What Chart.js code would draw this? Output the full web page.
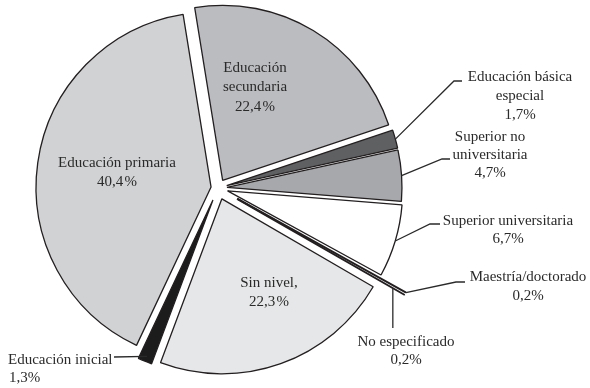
<!DOCTYPE html>
<html>
<head>
<meta charset="utf-8">
<script src="https://cdn.jsdelivr.net/npm/chart.js@4.4.1/dist/chart.umd.min.js"></script>
<style>
  html, body { margin: 0; padding: 0; background: #fff; }
  #wrap { position: relative; width: 590px; height: 388px; }
</style>
</head>
<body>
<div id="wrap"><canvas id="pie"></canvas></div>
<script>
// Data (percent of population by education level)
const categories = [
    'Educación secundaria', 'Educación básica especial', 'Superior no universitaria',
    'Superior universitaria', 'Maestría/doctorado', 'No especificado',
    'Sin nivel', 'Educación inicial', 'Educación primaria'
];
const shares = [22.4, 1.7, 4.7, 6.7, 0.2, 0.2, 22.3, 1.3, 40.4];

// Styles
const fills = ['#bbbcbf', '#5f6062', '#a7a8ab', '#ffffff', '#3a3a3a', '#3a3a3a', '#e6e7e8', '#1c1c1c', '#d1d2d4'];
const borders = [1.3, 1.3, 1.3, 1.3, 1.9, 1.9, 1.3, 1.3, 1.3];
const explode = [9, 9, 9, 10, 4, 4, 11.5, 13, 7];      // px pulled out along slice middle
const nativeOffset = [0, 0, 0, 0, 72, 72, 0, 0, 0];    // Chart.js offset (thin slices only)

// Label layout: lines of text, centre x, first-line y, line height, inside/outside
const labelLayout = [
    { lines: ['Educación', 'secundaria'], x: 255, y: 68, lh: 19.5 },
    { lines: ['Educación básica', 'especial'], x: 520, y: 77, lh: 19, leader: { k: 1, pts: [[454, 81], [462, 81]] } },
    { lines: ['Superior no', 'universitaria'], x: 490, y: 137, lh: 18, leader: { k: 1, pts: [[442, 159], [450, 159]] } },
    { lines: ['Superior universitaria'], x: 508, y: 221, lh: 18.5, leader: { k: 1, pts: [[430, 224], [440, 224]] } },
    { lines: ['Maestría/doctorado'], x: 528, y: 277, lh: 19, leader: { k: 1, pts: [[456, 282], [465, 282]] } },
    { lines: ['No especificado'], x: 406, y: 342, lh: 18.5, leader: { k: 0.93, vertical: 328 } },
    { lines: ['Sin nivel,'], x: 269, y: 283, lh: 19 },
    { lines: ['Educación inicial'], x: 8, y: 360, lh: 18.5, align: 'left', leader: { k: 0.97, pts: [[114, 357]] } },
    { lines: ['Educación primaria'], x: 117, y: 163, lh: 19.5 }
];

const FONT = '15px "Liberation Serif", "DejaVu Serif", serif';
const INK = '#2a2a2a';

function pct(v, inside) {
    return v.toFixed(1).replace('.', ',') + (inside ? '\u200a%' : '%');
}

// draw each slice pulled away from the centre
const explodePlugin = {
    id: 'explode',
    beforeDatasetDraw(chart, args) {
        const ctx = chart.ctx;
        args.meta.data.forEach((arc, i) => {
            const a = (arc.startAngle + arc.endAngle) / 2;
            ctx.save();
            ctx.translate(Math.cos(a) * explode[i], Math.sin(a) * explode[i]);
            arc.draw(ctx, chart.chartArea);
            ctx.restore();
        });
        return false;
    }
};

// text labels and leader lines
const labelPlugin = {
    id: 'labels',
    afterDatasetsDraw(chart) {
        const ctx = chart.ctx;
        const meta = chart.getDatasetMeta(0);
        ctx.save();
        ctx.font = FONT;
        ctx.fillStyle = INK;
        ctx.textBaseline = 'middle';
        labelLayout.forEach((lab, i) => {
            const arc = meta.data[i];
            const texts = lab.lines.concat([pct(shares[i], !lab.leader)]);
            ctx.textAlign = lab.align || 'center';
            texts.forEach((t, j) => {
                let x = lab.x;
                if (lab.align === 'left' && j === texts.length - 1) x += 1;
                ctx.fillText(t, x, lab.y + j * lab.lh);
            });
            if (!lab.leader) return;
            const mid = (arc.startAngle + arc.endAngle) / 2;
            const extra = nativeOffset[i] / 4;
            const r = (arc.outerRadius + extra) * lab.leader.k;
            const sx = arc.x + Math.cos(mid) * (explode[i] + extra + r);
            const sy = arc.y + Math.sin(mid) * (explode[i] + extra + r);
            ctx.beginPath();
            ctx.strokeStyle = INK;
            ctx.lineWidth = 1.3;
            ctx.moveTo(sx, sy);
            if (lab.leader.vertical) {
                ctx.lineTo(sx, lab.leader.vertical);
            } else {
                lab.leader.pts.forEach(p => ctx.lineTo(p[0], p[1]));
            }
            ctx.stroke();
        });
        ctx.restore();
    }
};

new Chart(document.getElementById('pie'), {
    type: 'pie',
    data: {
        labels: categories,
        datasets: [{
            data: shares,
            backgroundColor: fills,
            borderColor: '#231f20',
            borderWidth: borders,
            offset: nativeOffset
        }]
    },
    options: {
        responsive: true,
        maintainAspectRatio: false,
        animation: false,
        rotation: -9.2,
        radius: 175,
        layout: { padding: { left: 0, right: 154, top: 0, bottom: 12 } },
        plugins: {
            legend: { display: false },
            tooltip: { enabled: false }
        }
    },
    plugins: [explodePlugin, labelPlugin]
});
</script>
</body>
</html>
